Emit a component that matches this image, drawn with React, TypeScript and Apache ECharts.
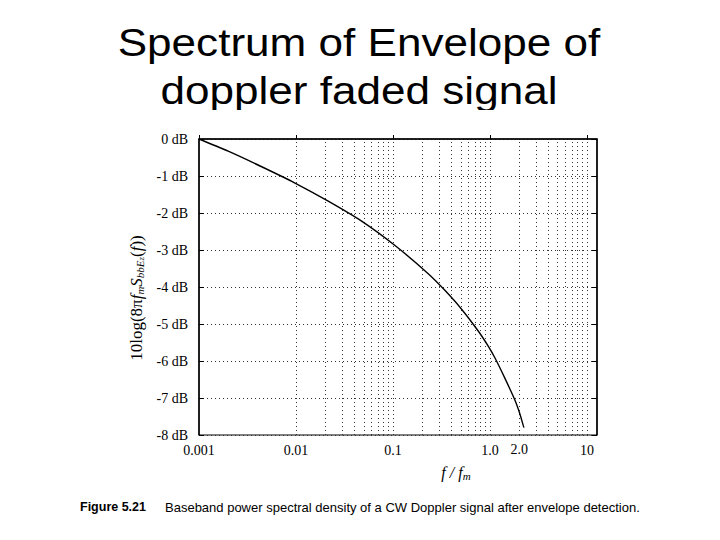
import React, { useEffect, useRef } from "react";
import * as echarts from "echarts";

// f / f_m values
const freqRatio = [0.001, 0.002, 0.00443, 0.00977, 0.0215, 0.0475, 0.105, 0.231, 0.343, 0.51, 0.757, 0.96, 1.127, 1.428, 1.811, 2.037, 2.203, 2.24];
// 10log(8π f_m S_bbEz(f)) in dB
const envelopeDb = [0, -0.33, -0.75, -1.19, -1.68, -2.22, -2.88, -3.64, -4.09, -4.6, -5.19, -5.6, -5.92, -6.47, -7.06, -7.43, -7.74, -7.8];

// vertical dotted grid positions on the log axis
const gridFreqs = [
  0.002, 0.003, 0.004, 0.005, 0.006, 0.007, 0.008, 0.009, 0.01,
  0.02, 0.03, 0.04, 0.05, 0.06, 0.07, 0.08, 0.09, 0.1,
  0.2, 0.3, 0.4, 0.5, 0.6, 0.7, 0.8, 0.9, 1,
  2, 3, 4, 5, 6, 7, 8, 9, 10,
];
const xTickLabels: [number, string][] = [
  [0.001, "0.001"],
  [0.01, "0.01"],
  [0.1, "0.1"],
  [1, "1.0"],
  [10, "10"],
];
const extraXLabel: [number, string] = [2, "2.0"];

const titleText = "Spectrum of Envelope of\ndoppler faded signal";
const figureTag = "Figure 5.21";
const captionText = "Baseband power spectral density of a CW Doppler signal after envelope detection.";

const SERIF = '"Liberation Serif", "DejaVu Serif", serif';
const SANS = '"Liberation Sans", Arial, sans-serif';

export default function App() {
  const ref = useRef<HTMLDivElement>(null);

  useEffect(() => {
    if (!ref.current) return;
    const chart = echarts.init(ref.current, undefined, { renderer: "svg" });

    const data = freqRatio.map((f, i) => [f, envelopeDb[i]]);
    const dotted = { type: [1, 3], color: "#333", width: 1 };

    const markData = gridFreqs.map((v) => {
      const item: any = { xAxis: v };
      if (Math.abs(v - extraXLabel[0]) < 1e-9) {
        item.label = {
          show: true,
          position: "start",
          formatter: extraXLabel[1],
          fontFamily: SERIF,
          fontSize: 14,
          color: "#000",
          distance: 7,
        };
      }
      return item;
    });

    const option: any = {
      animation: false,
      backgroundColor: "#ffffff",
      graphic: [
        {
          type: "text",
          x: 359,
          y: 19,
          scaleX: 1.16,
          z: 1,
          style: {
            text: titleText,
            font: `38px ${SANS}`,
            fill: "#000",
            textAlign: "center",
            textVerticalAlign: "top",
            lineHeight: 48,
          },
        },
        {
          type: "rect",
          z: 5,
          shape: { x: 100, y: 110, width: 520, height: 20 },
          style: { fill: "#ffffff" },
        },
        {
          type: "text",
          x: 80,
          y: 507,
          style: {
            text: figureTag,
            font: `bold 12.5px ${SANS}`,
            fill: "#000",
            textVerticalAlign: "middle",
          },
        },
        {
          type: "text",
          x: 165,
          y: 507,
          style: {
            text: captionText,
            font: `13px ${SANS}`,
            fill: "#000",
            textVerticalAlign: "middle",
          },
        },
      ],
      grid: {
        left: 199,
        right: 123,
        top: 139,
        bottom: 105,
        show: true,
        borderColor: "#000",
        borderWidth: 1,
        backgroundColor: "transparent",
      },
      xAxis: {
        type: "log",
        logBase: 10,
        min: 0.001,
        max: 12.7,
        name: "{i|f / f}{s|m}",
        nameLocation: "middle",
        nameGap: 29,
        nameTextStyle: {
          padding: [0, 0, 0, 116],
          rich: {
            i: { fontFamily: SERIF, fontStyle: "italic", fontSize: 16, color: "#000" },
            s: { fontFamily: SERIF, fontStyle: "italic", fontSize: 11, color: "#000", padding: [6, 0, 0, 0] },
          },
        },
        axisLine: { show: true, lineStyle: { color: "#000", width: 1.5 } },
        axisTick: { show: true, inside: true, length: 4, lineStyle: { color: "#000" } },
        axisLabel: {
          fontFamily: SERIF,
          fontSize: 14,
          color: "#000",
          margin: 8,
          showMaxLabel: false,
          formatter: (v: number) => {
            for (const [val, txt] of xTickLabels) {
              if (Math.abs(Math.log10(v) - Math.log10(val)) < 1e-6) return txt;
            }
            return "";
          },
        },
        splitLine: { show: false },
      },
      yAxis: [
        {
          type: "value",
          min: -8,
          max: 0,
          interval: 1,
          name: "10log(8π{i|f}{s|m}{i|S}{s|bbE}{ss|z}({i|f}))",
          nameLocation: "middle",
          nameGap: 46,
          nameTextStyle: {
            fontFamily: SERIF,
            fontSize: 17,
            color: "#000",
            padding: [0, 22, 0, 0],
            rich: {
              i: { fontFamily: SERIF, fontStyle: "italic", fontSize: 17, color: "#000" },
              s: { fontFamily: SERIF, fontStyle: "italic", fontSize: 11, color: "#000", padding: [7, 0, 0, 0] },
              ss: { fontFamily: SERIF, fontStyle: "italic", fontSize: 9, color: "#000", padding: [10, 0, 0, 0] },
            },
          },
          axisLine: { show: true, lineStyle: { color: "#000", width: 1.5 } },
          axisTick: { show: true, inside: true, length: 5, lineStyle: { color: "#000" } },
          axisLabel: {
            fontFamily: SERIF,
            fontSize: 14,
            color: "#000",
            margin: 11,
            formatter: (v: number) => `${Math.round(v)} dB`,
          },
          splitLine: { show: true, lineStyle: dotted },
        },
        {
          type: "value",
          position: "right",
          min: -8,
          max: 0,
          interval: 1,
          axisLine: { show: true, lineStyle: { color: "#000", width: 1.5 } },
          axisTick: { show: true, inside: true, length: 5, lineStyle: { color: "#000" } },
          axisLabel: { show: false },
          splitLine: { show: false },
        },
      ],
      series: [
        {
          type: "line",
          data,
          yAxisIndex: 0,
          showSymbol: false,
          smooth: 0.25,
          lineStyle: { color: "#000", width: 1.4 },
          z: 5,
          markLine: {
            silent: true,
            symbol: ["none", "none"],
            animation: false,
            lineStyle: dotted,
            label: { show: false },
            emphasis: { disabled: true },
            data: markData,
          },
        },
      ],
    };

    chart.setOption(option);
    return () => chart.dispose();
  }, []);

  return (
    <div
      ref={ref}
      style={{ position: "fixed", left: 0, top: 0, width: 720, height: 540, background: "#fff" }}
    />
  );
}
